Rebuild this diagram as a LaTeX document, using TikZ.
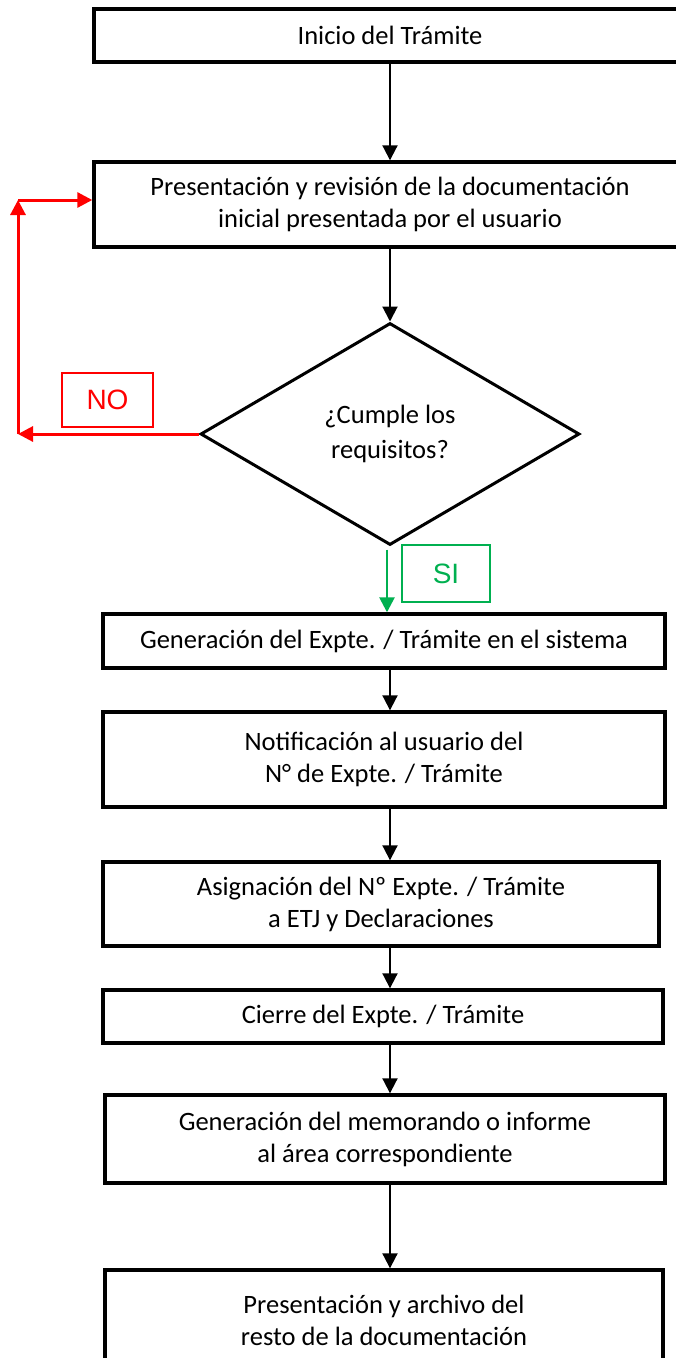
\documentclass[tikz,border=0pt]{standalone}
\usepackage{fontspec}
\setmainfont{Carlito}
\newfontfamily\arialfont{Liberation Sans}
\usetikzlibrary{shapes.geometric, arrows.meta}
\definecolor{noRed}{RGB}{255,0,0}
\definecolor{siGreen}{RGB}{0,176,80}

\begin{document}
\begin{tikzpicture}[x=1pt, y=-1pt, ->, >={Triangle[length=15pt,width=15pt]}, line width=2pt]
  \tikzstyle{box}=[rectangle, draw, line width=3.4pt, align=center, inner sep=0pt,
    font=\fontsize{26.5}{32}\selectfont]
  \tikzstyle{decision}=[diamond, draw, line width=3pt, align=center, inner sep=0pt,
    minimum width=379pt, minimum height=222pt, font=\fontsize{26.5}{35}\selectfont]
  \tikzstyle{tag}=[rectangle, draw, line width=2.8pt, inner sep=0pt,
    font=\arialfont\fontsize{28}{32}\selectfont]
  \useasboundingbox (0,0) rectangle (676,1358);

  \node[box, minimum width=592pt, minimum height=53pt] (P_1) at (390,35.5) {Inicio del Trámite};
  \node[box, minimum width=592pt, minimum height=85pt] (P_2) at (390,204.5)
    {Presentación y revisión de la documentación\\inicial presentada por el usuario};
  \node[decision] (D_1) at (390,434) {¿Cumple los\\requisitos?};
  \node[box, minimum width=562pt, minimum height=54pt] (P_3) at (384,641)
    {Generación del Expte. / Trámite en el sistema};
  \node[box, minimum width=562pt, minimum height=95pt] (P_4) at (384,759.5)
    {Notificación al usuario del\\N° de Expte. / Trámite};
  \node[box, minimum width=556pt, minimum height=84pt] (P_5) at (381,904)
    {Asignación del Nº Expte. / Trámite\\a ETJ y Declaraciones};
  \node[box, minimum width=560pt, minimum height=53pt] (P_6) at (383,1016.5)
    {Cierre del Expte. / Trámite};
  \node[box, minimum width=560pt, minimum height=88pt] (P_7) at (385,1139)
    {Generación del memorando o informe\\al área correspondiente};
  \node[box, minimum width=558pt, minimum height=100pt] (P_8) at (384,1320)
    {Presentación y archivo del\\resto de la documentación};

  \node[tag, draw=noRed, text=noRed, minimum width=91pt, minimum height=54pt] (T_no) at (107.5,400) {NO};
  \node[tag, draw=siGreen, text=siGreen, minimum width=88pt, minimum height=57pt] (T_si) at (446,573.5) {SI};

  \coordinate (C_1) at (18,434);
  \coordinate (C_2) at (18,200);
  \coordinate (S_1) at ([xshift=-3pt]D_1.south);

  \draw (P_1.south -| D_1) -- (P_2.north -| D_1);
  \draw (P_2.south -| D_1) -- (D_1.north);
  \draw (P_3.south -| D_1) -- (P_4.north -| D_1);
  \draw (P_4.south -| D_1) -- (P_5.north -| D_1);
  \draw (P_5.south -| D_1) -- (P_6.north -| D_1);
  \draw (P_6.south -| D_1) -- (P_7.north -| D_1);
  \draw (P_7.south -| D_1) -- (P_8.north -| D_1);

  \draw[noRed, line width=3pt] (D_1.west) -- (C_1);
  \draw[noRed, line width=3pt] (C_1) -- (C_2);
  \draw[noRed, line width=3pt] (C_2) -- (C_2 -| P_2.west);

  \draw[siGreen, line width=2.6pt, shorten <=3pt] (S_1) -- (S_1 |- P_3.north);
\end{tikzpicture}
\end{document}
